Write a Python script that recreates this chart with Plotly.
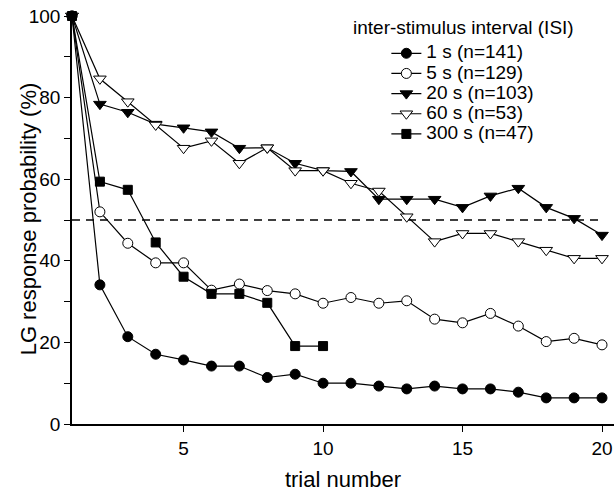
import plotly.graph_objects as go

# ---------------- data ----------------
trials = list(range(1, 21))
trials_300 = list(range(1, 11))

isi_1s = [100, 34.1, 21.4, 17.1, 15.7, 14.2, 14.2, 11.4, 12.2, 10.0,
          10.0, 9.3, 8.6, 9.3, 8.6, 8.6, 7.8, 6.4, 6.4, 6.4]
isi_5s = [100, 52.0, 44.3, 39.5, 39.5, 32.8, 34.3, 32.7, 31.9, 29.6,
          31.0, 29.6, 30.2, 25.7, 24.8, 27.1, 24.0, 20.2, 21.0, 19.4]
isi_20s = [100, 78.4, 76.4, 73.5, 72.6, 71.6, 67.6, 67.7, 63.9, 62.1,
           61.9, 55.1, 55.1, 55.1, 53.1, 55.9, 57.8, 53.1, 50.4, 46.3]
isi_60s = [100, 84.6, 79.0, 73.3, 67.6, 69.4, 63.9, 67.7, 62.1, 62.1,
           59.0, 57.1, 50.8, 44.7, 46.7, 46.7, 44.7, 42.6, 40.6, 40.6]
isi_300s = [100, 59.4, 57.4, 44.5, 36.1, 31.9, 31.9, 29.7, 19.1, 19.1]

series_names = ["1 s (n=141)", "5 s (n=129)", "20 s (n=103)", "60 s (n=53)", "300 s (n=47)"]
threshold = 50

x_tickvals = [5, 10, 15, 20]
y_tickvals = [0, 20, 40, 60, 80, 100]

# ---------------- styling ----------------
FONT = "Liberation Sans, Arial, sans-serif"
styles = [
    dict(symbol="circle", size=10, color="black"),
    dict(symbol="circle", size=10, color="white"),
    dict(symbol="triangle-down", size=11, color="black"),
    dict(symbol="triangle-down", size=11, color="white"),
    dict(symbol="square", size=9, color="black"),
]
xs = [trials, trials, trials, trials, trials_300]
ys = [isi_1s, isi_5s, isi_20s, isi_60s, isi_300s]

fig = go.Figure()
for name, x, y, st in zip(series_names, xs, ys, styles):
    fig.add_trace(go.Scatter(
        x=x, y=y, mode="lines+markers",
        name='<span style="font-size:19px">' + name + "</span>",
        line=dict(color="black", width=1.2),
        marker=dict(symbol=st["symbol"], size=st["size"], color=st["color"],
                    line=dict(color="black", width=1)),
        cliponaxis=False,
    ))

fig.add_shape(type="line", xref="x", yref="y", x0=1, x1=20, y0=threshold, y1=threshold,
              line=dict(color="black", width=1.4, dash="8px,6px"), layer="below")

fig.add_annotation(text="inter-stimulus interval (ISI)", xref="paper", yref="paper",
                   x=0.722, y=0.971, xanchor="center", yanchor="middle",
                   showarrow=False, font=dict(family=FONT, size=19, color="black"))

fig.add_annotation(text="LG response probability (%)", xref="paper", yref="paper",
                   x=-0.0812, y=0.504, xanchor="center", yanchor="middle", textangle=-90,
                   showarrow=False, font=dict(family=FONT, size=22, color="black"))

fig.update_layout(
    width=614, height=492,
    margin=dict(l=72, r=0, t=16, b=68, autoexpand=False),
    paper_bgcolor="white", plot_bgcolor="white",
    font=dict(family=FONT, color="black"),
    showlegend=True,
    hovermode=False,
    legend=dict(x=0.580, y=0.9456, xanchor="left", yanchor="top",
                bgcolor="rgba(0,0,0,0)", borderwidth=0,
                font=dict(family=FONT, size=13.2, color="black"),
                itemclick=False, itemdoubleclick=False),
    xaxis=dict(range=[1, 20.43], tickvals=x_tickvals, ticks="outside", ticklen=6,
               tickwidth=1.2, tickcolor="black", showline=True, linecolor="black",
               linewidth=1.5, showgrid=False, zeroline=False, ticklabeloverflow="allow",
               tickfont=dict(family=FONT, size=19),
               title=dict(text="trial number", font=dict(family=FONT, size=22), standoff=16)),
    yaxis=dict(range=[0, 100], tickvals=y_tickvals, ticks="outside", ticklen=6,
               tickwidth=1.2, tickcolor="black", showline=True, linecolor="black",
               linewidth=1.5, showgrid=False, zeroline=False, ticklabeloverflow="allow",
               minor=dict(dtick=10, tick0=0, ticks="outside", ticklen=6, tickcolor="black",
                          tickwidth=1.2, showgrid=False),
               tickfont=dict(family=FONT, size=19)),
)

fig.write_html("out.html", config={"displayModeBar": False},
               post_script="document.body.style.margin='0';")
